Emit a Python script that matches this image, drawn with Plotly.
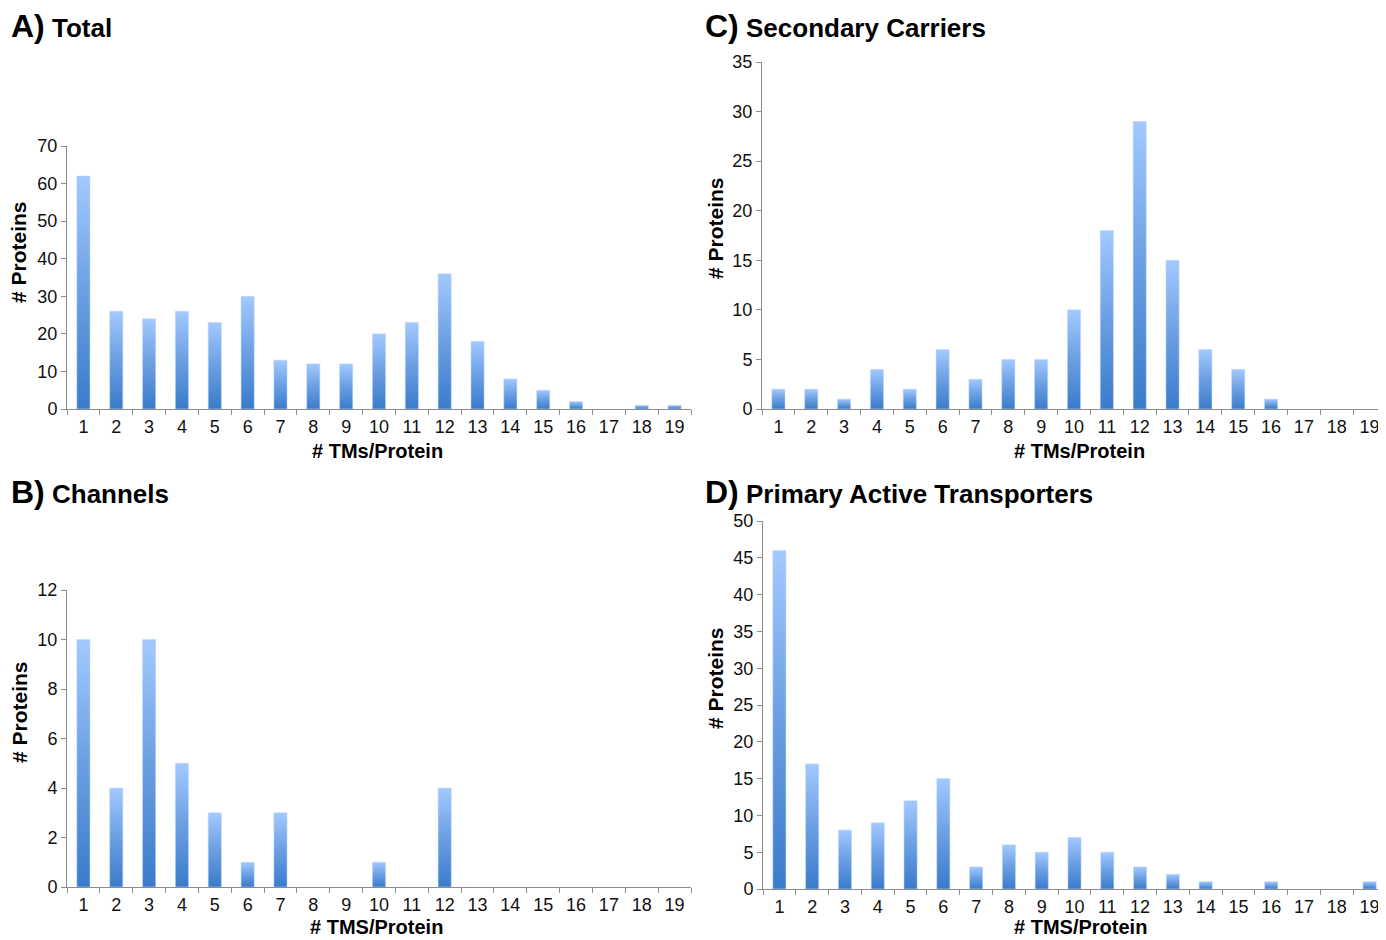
import plotly.graph_objects as go

# ---------------- data ----------------
tms = list(range(1, 20))
total = [62, 26, 24, 26, 23, 30, 13, 12, 12, 20, 23, 36, 18, 8, 5, 2, 0, 1, 1]
channels = [10, 4, 10, 5, 3, 1, 3, 0, 0, 1, 0, 4, 0, 0, 0, 0, 0, 0, 0]
secondary = [2, 2, 1, 4, 2, 6, 3, 5, 5, 10, 18, 29, 15, 6, 4, 1, 0, 0, 0]
primary = [46, 17, 8, 9, 12, 15, 3, 6, 5, 7, 5, 3, 2, 1, 0, 1, 0, 0, 1]

panel_titles = ["A)", "B)", "C)", "D)"]
panel_names = ["Total", "Channels", "Secondary Carriers", "Primary Active Transporters"]
x_titles = ["# TMs/Protein", "# TMS/Protein", "# TMs/Protein", "# TMS/Protein"]
y_title = "# Proteins"
y_max = [70, 12, 35, 50]
y_step = [10, 2, 5, 5]

# ---------------- layout helpers ----------------
OFF = 8  # default page body margin
W, H = 1386 - OFF, 940 - OFF
def px_x(p):
    return (p - OFF) / W
def px_y(p):
    return 1 - (p - OFF) / H

# (left, right, top, bottom) pixel boxes of plot areas (page pixels)
boxes = [(67, 691, 146, 409), (67, 691, 590, 887), (762, 1386, 62, 409), (763, 1386, 521, 889)]
title_pos = [(9, 26), (9, 492), (703, 26), (703, 492)]
ytitle_pos = [(19, 252), (19, 712), (715, 228), (715, 678)]
xtitle_pos = [(377, 451), (376, 927), (1079, 451), (1080, 927)]

series = [total, channels, secondary, primary]

BAR_W = 0.4
DARK = "#3A7BCB"
MID = "#6B9FE2"
LIGHT = "#A3C9FF"
AXIS = "#8C8C8C"
FONT = "Liberation Sans, Arial, Helvetica, sans-serif"

fig = go.Figure()
layout = {}
annotations = []

for i, vals in enumerate(series):
    n = "" if i == 0 else str(i + 1)
    xa, ya = "x" + n, "y" + n
    for t, v in zip(tms, vals):
        if v <= 0:
            continue
        x0, x1 = t - BAR_W / 2, t + BAR_W / 2
        fig.add_trace(go.Scatter(
            x=[x0, x1, x1, x0, x0], y=[0, 0, v, v, 0],
            mode="lines", fill="toself",
            line=dict(width=0.6, color="rgba(190,215,250,0.9)"),
            fillgradient=dict(type="vertical",
                              colorscale=[[0, DARK], [0.5, MID], [1, LIGHT]]),
            xaxis=xa, yaxis=ya, showlegend=False,
            hoverinfo="text", text=f"{t} TMs: {v}",
        ))
    l, r, tp, b = boxes[i]
    layout["xaxis" + n] = dict(
        domain=[px_x(l), min(1.0, px_x(r))], range=[0.5, 19.5], anchor=ya,
        tickmode="linear", tick0=1, dtick=1,
        ticks="outside", ticklen=1, tickcolor="rgba(0,0,0,0)",
        minor=dict(ticks="outside", ticklen=5, tickcolor=AXIS, tick0=0.5, dtick=1, showgrid=False),
        showline=True, linecolor=AXIS, linewidth=1, showgrid=False, zeroline=False,
        tickfont=dict(family=FONT, size=18, color="#111"), fixedrange=True,
        automargin=False,
    )
    layout["yaxis" + n] = dict(
        domain=[px_y(b), px_y(tp)], range=[0, y_max[i]], anchor=xa,
        tickmode="linear", tick0=0, dtick=y_step[i],
        ticks="outside", ticklen=5, tickcolor=AXIS,
        showline=True, linecolor=AXIS, linewidth=1, showgrid=False, zeroline=False,
        tickfont=dict(family=FONT, size=18, color="#111"), fixedrange=True,
        automargin=False,
    )
    tx, ty = title_pos[i]
    annotations.append(dict(
        text=f"<span style='font-size:32px'>{panel_titles[i]}</span> {panel_names[i]}",
        x=px_x(tx), y=px_y(ty), xref="paper", yref="paper",
        xanchor="left", yanchor="middle", showarrow=False,
        font=dict(family=FONT, size=26, color="#000", weight="bold"),
    ))
    yx, yy = ytitle_pos[i]
    annotations.append(dict(
        text=y_title, x=px_x(yx), y=px_y(yy), xref="paper", yref="paper",
        xanchor="center", yanchor="middle", showarrow=False, textangle=-90,
        font=dict(family=FONT, size=21, color="#000", weight="bold"),
    ))
    xx, xy = xtitle_pos[i]
    annotations.append(dict(
        text=x_titles[i], x=px_x(xx), y=px_y(xy), xref="paper", yref="paper",
        xanchor="center", yanchor="middle", showarrow=False,
        font=dict(family=FONT, size=20, color="#000", weight="bold"),
    ))

fig.update_layout(
    template="none",
    width=W, height=H, margin=dict(l=0, r=0, t=0, b=0, autoexpand=False),
    paper_bgcolor="white", plot_bgcolor="white",
    annotations=annotations, showlegend=False, **layout,
)
fig.write_html("out.html")
